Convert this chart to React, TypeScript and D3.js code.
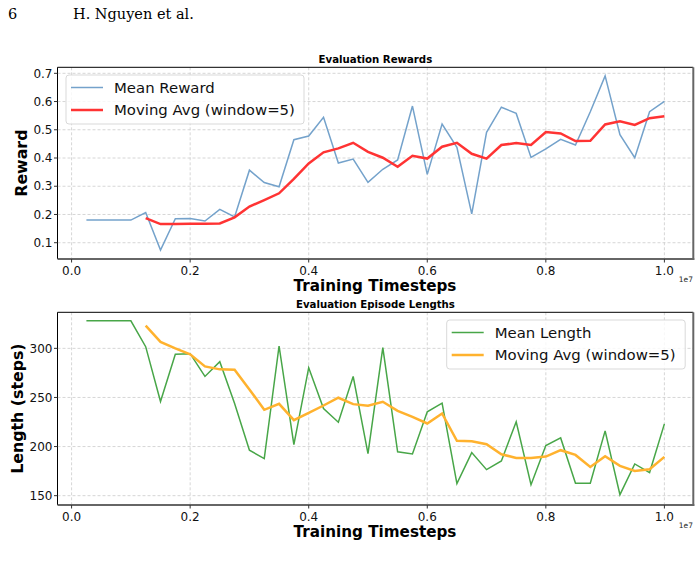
import React from "react";
import * as d3 from "d3";

const timesteps = d3.range(1, 41).map((i) => i * 250000);

const meanReward = [
  0.18, 0.18, 0.18, 0.18, 0.207, 0.074, 0.185, 0.186, 0.177, 0.218,
  0.191, 0.357, 0.313, 0.298, 0.465, 0.478, 0.544, 0.382, 0.396, 0.314,
  0.36, 0.393, 0.584, 0.342, 0.52, 0.438, 0.202, 0.491, 0.58, 0.558,
  0.402, 0.432, 0.466, 0.446, 0.564, 0.691, 0.483, 0.401, 0.564, 0.601,
];

const rewardAvg = [
  null, null, null, null, 0.187, 0.166, 0.166, 0.167, 0.167, 0.168,
  0.19, 0.228, 0.251, 0.275, 0.326, 0.381, 0.42, 0.434, 0.454, 0.422,
  0.401, 0.369, 0.408, 0.398, 0.44, 0.454, 0.415, 0.398, 0.446, 0.453,
  0.446, 0.492, 0.487, 0.46, 0.461, 0.519, 0.53, 0.517, 0.541, 0.548,
];

const meanLength = [
  328, 328, 328, 328, 301.7, 245.9, 293.9, 294.6, 271.4, 286.4,
  243.9, 196.3, 187.8, 302.4, 202, 280.3, 238.8, 224.8, 271.4, 192.9,
  300.7, 194.6, 192.5, 235.4, 244.2, 162.2, 193.9, 176.5, 185.4, 225.2,
  161.2, 201, 208.8, 162.6, 162.6, 216, 151, 182.3, 173.5, 223.1,
];

const lengthAvg = [
  null, null, null, null, 323.1, 306.5, 300, 293.9, 281.6, 278.6,
  278.2, 258.2, 237.4, 243.5, 226.9, 234.4, 241.8, 249.7, 243.2, 241.5,
  245.6, 236.4, 230.3, 223.5, 233.7, 205.8, 205.4, 202.4, 192.2, 188.4,
  188.4, 189.8, 196.3, 191.5, 179.3, 190.1, 180.3, 175.2, 176.9, 189.5,
];

const xTicks = [0, 2000000, 4000000, 6000000, 8000000, 10000000];
const rewardTicks = [0.1, 0.2, 0.3, 0.4, 0.5, 0.6, 0.7];
const lengthTicks = [150, 200, 250, 300];

const FONT = "DejaVu Sans, sans-serif";

type PanelProps = {
  top: number;
  bottom: number;
  yDomain: [number, number];
  yTicks: number[];
  yFmt: (v: number) => string;
  raw: number[];
  avg: (number | null)[];
  rawColor: string;
  avgColor: string;
  rawLabel: string;
  title: string;
  yLabel: string;
  yLabelX: number;
  legend: { x: number; y: number; w: number; h: number };
};

function Panel(p: PanelProps) {
  const left = 57.5;
  const right = 693.3;
  const x = d3.scaleLinear().domain([-237500, 10487500]).range([left, right]);
  const y = d3.scaleLinear().domain(p.yDomain).range([p.bottom, p.top]);
  const lineRaw = d3
    .line<number>()
    .x((_, i) => x(timesteps[i]))
    .y((d) => y(d));
  const pts = p.avg
    .map((v, i) => ({ t: timesteps[i], v }))
    .filter((d) => d.v !== null) as { t: number; v: number }[];
  const lineAvg = d3
    .line<{ t: number; v: number }>()
    .x((d) => x(d.t))
    .y((d) => y(d.v));
  const midY = (p.top + p.bottom) / 2;
  const lg = p.legend;
  return (
    <g>
      <text
        x={(left + right) / 2}
        y={p.top - 4}
        textAnchor="middle"
        fontFamily={FONT}
        fontWeight="bold"
        fontSize={10.2}
      >
        {p.title}
      </text>
      {xTicks.map((t) => (
        <line
          key={"gx" + t}
          x1={x(t)}
          x2={x(t)}
          y1={p.top}
          y2={p.bottom}
          stroke="#cccccc"
          strokeWidth={0.8}
          strokeDasharray="3,2"
        />
      ))}
      {p.yTicks.map((t) => (
        <line
          key={"gy" + t}
          x1={left}
          x2={right}
          y1={y(t)}
          y2={y(t)}
          stroke="#cccccc"
          strokeWidth={0.8}
          strokeDasharray="3,2"
        />
      ))}
      <path d={lineRaw(p.raw) || ""} fill="none" stroke={p.rawColor} strokeWidth={1.5} />
      <path d={lineAvg(pts) || ""} fill="none" stroke={p.avgColor} strokeWidth={2.5} />
      <line x1={left} x2={right} y1={p.top} y2={p.top} stroke="#000" strokeWidth={1} />
      <line x1={left} x2={left} y1={p.top} y2={p.bottom} stroke="#000" strokeWidth={1} />
      <line x1={right} x2={right} y1={p.top} y2={p.bottom + 1} stroke="#666" strokeWidth={2} />
      <line x1={left} x2={right + 1} y1={p.bottom} y2={p.bottom} stroke="#666" strokeWidth={2} />
      {xTicks.map((t) => (
        <g key={"tx" + t}>
          <line x1={x(t)} x2={x(t)} y1={p.bottom} y2={p.bottom + 3.5} stroke="#333" />
          <text
            x={x(t)}
            y={p.bottom + 16}
            textAnchor="middle"
            fontFamily={FONT}
            fontSize={12}
            fill="#111"
          >
            {(t / 1e7).toFixed(1)}
          </text>
        </g>
      ))}
      {p.yTicks.map((t) => (
        <g key={"ty" + t}>
          <line x1={left - 3.5} x2={left} y1={y(t)} y2={y(t)} stroke="#333" />
          <text
            x={left - 5}
            y={y(t)}
            dy="0.35em"
            textAnchor="end"
            fontFamily={FONT}
            fontSize={12}
            fill="#111"
          >
            {p.yFmt(t)}
          </text>
        </g>
      ))}
      <text x={693} y={p.bottom + 23} textAnchor="end" fontFamily={FONT} fontSize={7.5} fill="#222">
        1e7
      </text>
      <text
        x={375}
        y={p.bottom + 31.5}
        textAnchor="middle"
        fontFamily={FONT}
        fontWeight="bold"
        fontSize={15.2}
      >
        Training Timesteps
      </text>
      <text
        transform={`translate(${p.yLabelX},${midY}) rotate(-90)`}
        textAnchor="middle"
        fontFamily={FONT}
        fontWeight="bold"
        fontSize={15.8}
      >
        {p.yLabel}
      </text>
      <rect
        x={lg.x}
        y={lg.y}
        width={lg.w}
        height={lg.h}
        rx={3}
        fill="#fff"
        fillOpacity={0.8}
        stroke="#d9d9d9"
        strokeWidth={1}
      />
      <line
        x1={lg.x + 5}
        x2={lg.x + 37}
        y1={lg.y + 12.5}
        y2={lg.y + 12.5}
        stroke={p.rawColor}
        strokeWidth={1.5}
      />
      <text x={lg.x + 48} y={lg.y + 12.5} dy="0.35em" fontFamily={FONT} fontSize={14.9} fill="#111">
        {p.rawLabel}
      </text>
      <line
        x1={lg.x + 5}
        x2={lg.x + 37}
        y1={lg.y + 35}
        y2={lg.y + 35}
        stroke={p.avgColor}
        strokeWidth={2.5}
      />
      <text x={lg.x + 48} y={lg.y + 35} dy="0.35em" fontFamily={FONT} fontSize={14.9} fill="#111">
        Moving Avg (window=5)
      </text>
    </g>
  );
}

export default function App() {
  return (
    <div style={{ position: "absolute", left: 0, top: 0 }}>
      <svg width={700} height={572} style={{ display: "block", background: "#fff" }}>
        <text x={8} y={19} fontFamily="DejaVu Serif, serif" fontSize={14.5}>
          6
        </text>
        <text x={73} y={19} fontFamily="DejaVu Serif, serif" fontSize={14.5}>
          H. Nguyen et al.
        </text>
        <Panel
          top={67.3}
          bottom={259}
          yDomain={[0.0423, 0.7213]}
          yTicks={rewardTicks}
          yFmt={(v) => v.toFixed(1)}
          raw={meanReward}
          avg={rewardAvg}
          rawColor="#74a2cb"
          avgColor="#ff3333"
          rawLabel="Mean Reward"
          title="Evaluation Rewards"
          yLabel="Reward"
          yLabelX={27}
          legend={{ x: 66, y: 75, w: 238, h: 49 }}
        />
        <Panel
          top={312.3}
          bottom={505}
          yDomain={[140.5, 336.7]}
          yTicks={lengthTicks}
          yFmt={(v) => String(v)}
          raw={meanLength}
          avg={lengthAvg}
          rawColor="#48a648"
          avgColor="#ffb22e"
          rawLabel="Mean Length"
          title="Evaluation Episode Lengths"
          yLabel="Length (steps)"
          yLabelX={23}
          legend={{ x: 446.7, y: 320, w: 238.5, h: 49 }}
        />
      </svg>
    </div>
  );
}
